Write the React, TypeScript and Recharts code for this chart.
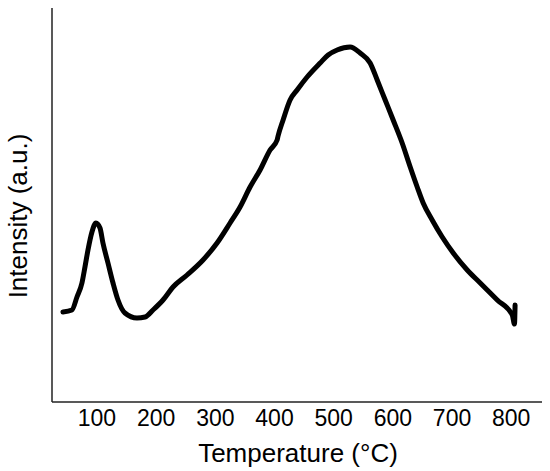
import React from "react";
import { LineChart, Line, XAxis, YAxis } from "recharts";

const temperatures = [
  42.5, 57.7, 66.2, 74.6, 79.7, 84.8, 91.5, 98.3, 105.1, 110.1, 118.6, 127.1,
  135.5, 147.3, 167.6, 181.2, 194.7, 211.6, 228.5, 252.2, 279.2, 302.9, 324.9,
  341.8, 358.7, 375.6, 392.5, 404.4, 406.0, 414.5, 426.3, 438.2, 455.1, 477.1,
  490.6, 505.8, 527.8, 544.7, 561.6, 573.5, 587.0, 600.5, 615.7, 629.3, 641.1,
  651.2, 666.4, 683.4, 702.0, 725.6, 747.6, 776.4, 801.7, 805.5, 806.5,
];

const intensities = [
  90, 92, 105, 119, 135, 152, 170, 179, 174, 159, 139, 119, 102, 89, 84, 85, 92,
  102, 115, 127, 142, 159, 179, 195, 215, 232, 252, 262, 266, 282, 302, 312,
  325, 339, 347, 352, 355, 349, 339, 322, 302, 282, 259, 235, 215, 199, 182,
  165, 149, 132, 119, 102, 87, 78, 97,
];

const xTicks = [100, 200, 300, 400, 500, 600, 700, 800];

const data = temperatures.map((t, i) => ({ t, v: intensities[i] }));

const FONT = "'Liberation Sans', Arial, sans-serif";

export default function App() {
  return (
    <div style={{ width: 550, height: 471, background: "#fff" }}>
      <style>{"body{margin:0}"}</style>
      <LineChart
        width={550}
        height={471}
        data={data}
        margin={{ top: 8, right: 8, left: 0, bottom: 0 }}
      >
        <XAxis
          type="number"
          dataKey="t"
          domain={[24, 852]}
          ticks={xTicks}
          allowDataOverflow
          height={69}
          tickLine={false}
          axisLine={{ stroke: "#222", strokeWidth: 1.5 }}
          tick={{ fontSize: 23, fill: "#000", fontFamily: FONT }}
          label={{
            content: () => (
              <text
                x={298}
                y={462}
                textAnchor="middle"
                fontSize={26}
                fontFamily={FONT}
                fill="#000"
              >
                Temperature (°C)
              </text>
            ),
          }}
        />
        <YAxis
          type="number"
          domain={[0, 394]}
          width={52}
          tick={false}
          tickLine={false}
          axisLine={{ stroke: "#222", strokeWidth: 1.5 }}
          label={{
            content: () => (
              <text
                x={27}
                y={216}
                transform="rotate(-90 27 216)"
                textAnchor="middle"
                fontSize={26}
                fontFamily={FONT}
                fill="#000"
              >
                Intensity (a.u.)
              </text>
            ),
          }}
        />
        <Line
          type="monotone"
          dataKey="v"
          stroke="#000"
          strokeWidth={5}
          strokeLinecap="round"
          strokeLinejoin="round"
          dot={false}
          isAnimationActive={false}
        />
      </LineChart>
    </div>
  );
}
